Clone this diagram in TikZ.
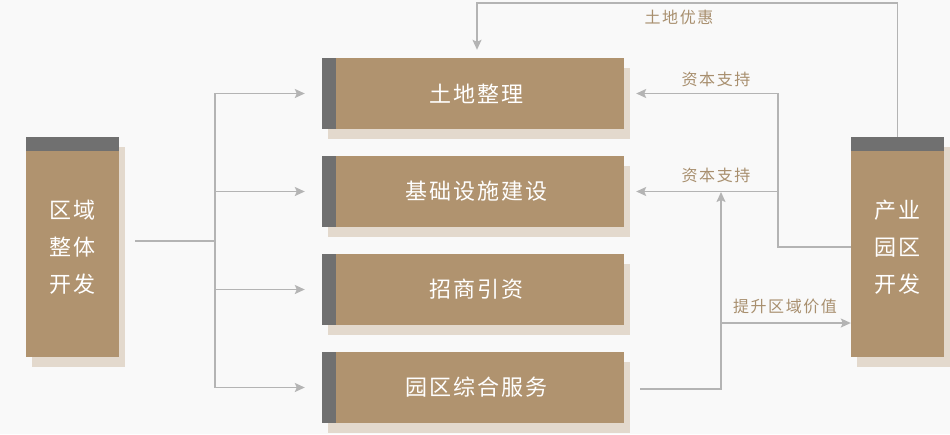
\documentclass[tikz,border=0pt]{standalone}
\usepackage{fontspec}
\setmainfont{Noto Sans CJK SC}[LetterSpace=10]
\usetikzlibrary{arrows.meta,shadows}
\definecolor{bgc}{HTML}{F9F9F9}
\definecolor{brownc}{HTML}{B0936F}
\definecolor{barc}{HTML}{707070}
\definecolor{shadowc}{HTML}{E3D9CD}
\definecolor{linec}{HTML}{B4B4B4}
\definecolor{labelc}{HTML}{A88F6E}
\begin{document}
\begin{tikzpicture}[x=1pt,y=-1pt,
  box/.style={fill=brownc, draw=none, text=white, font=\fontsize{22}{37}\selectfont, inner sep=0pt,
    general shadow={fill=shadowc, shadow xshift=6pt, shadow yshift=-10pt}},
  sidebox/.style={box, minimum width=93pt, minimum height=220pt, align=center,
    path picture={\fill[barc] (path picture bounding box.north west) rectangle ([yshift=-14pt]path picture bounding box.north east);}},
  midbox/.style={box, minimum width=302pt, minimum height=71pt,
    path picture={\fill[barc] (path picture bounding box.north west) rectangle ([xshift=14pt]path picture bounding box.south west);}},
  conn/.style={draw=linec, line width=1.5pt},
  arr/.style={conn, -{Stealth[length=10pt,width=9pt,inset=2pt]}},
  lbl/.style={text=labelc, font=\fontsize{16}{18}\selectfont, inner sep=0pt}]
\fill[bgc] (0,0) rectangle (950,434);
\useasboundingbox (0,0) rectangle (950,434);

\node[sidebox] (L) at (72.5,247) {区域\\整体\\开发};
\node[sidebox] (R) at (897.5,247) {产业\\园区\\开发};

\node[midbox] (B1) at (473,93.5) {\hspace*{7pt}土地整理};
\node[midbox] (B2) at (473,191.5) {\hspace*{7pt}基础设施建设};
\node[midbox] (B3) at (473,289.5) {\hspace*{7pt}招商引资};
\node[midbox] (B4) at (473,387.5) {\hspace*{7pt}园区综合服务};

% left tree
\coordinate (Lout) at (135,241);
\coordinate (T) at (215,241);
\draw[conn] (Lout) -- (T);
\foreach \b in {B1,B2,B3,B4}
  \draw[arr] (T) |- ([xshift=-17pt]\b.west);

% right side capital support
\coordinate (J) at (778,247);
\draw[arr] (R.west) -- (J) |- ([xshift=12pt]B1.east);
\draw[arr] (J) |- ([xshift=12pt]B2.east);
\node[lbl] (l1) at (716,79) {资本支持};
\node[lbl] (l2) at (716,175) {资本支持};

% top land preference
\coordinate (Top) at (897.5,3);
\draw[arr] (R.north) -- (Top) -| ([xshift=4pt,yshift=8pt]B1.north);
\node[lbl] (l3) at (679,17) {土地优惠};

% bottom value
\coordinate (V) at (721,389);
\coordinate (Vtip) at (721,192);
\draw[arr] ([xshift=16pt]B4.east |- V) -- (V) -- (Vtip);
\coordinate (Vb) at (721,323);
\draw[arr] (Vb) -- (R.west |- Vb);
\node[lbl] (l4) at (785,306) {提升区域价值};
\end{tikzpicture}
\end{document}
